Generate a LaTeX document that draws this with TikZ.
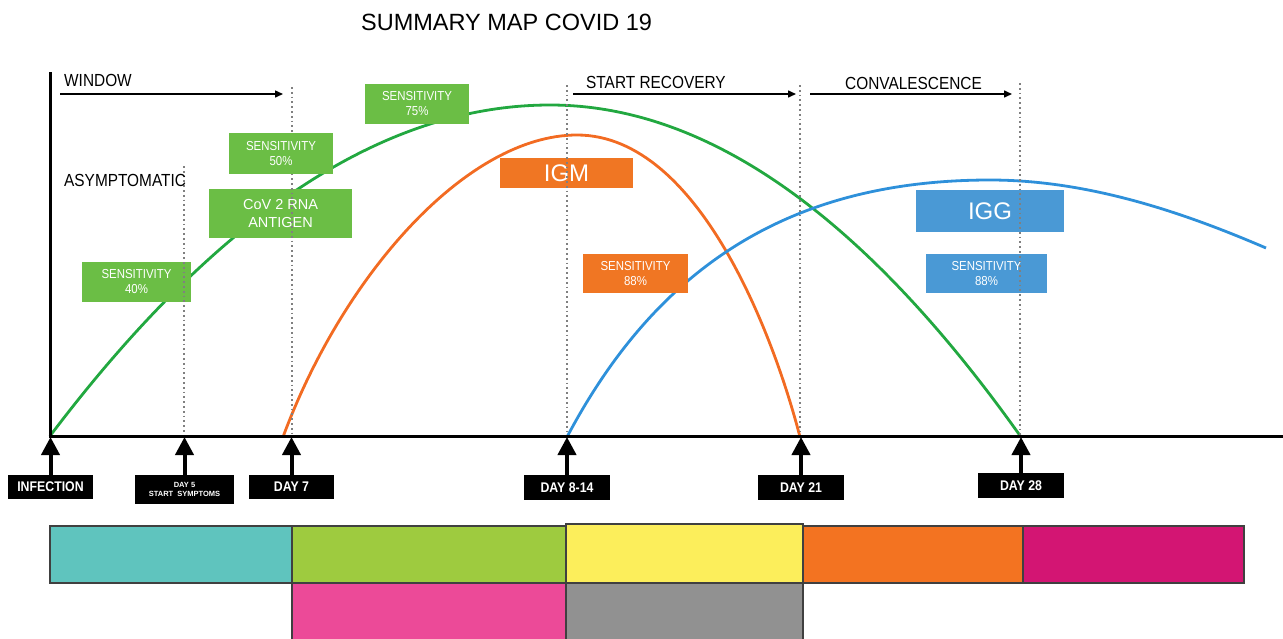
\documentclass[tikz,border=0pt]{standalone}
\usepackage{fontspec}
\setmainfont{Liberation Sans}
\newfontfamily\condf[FakeStretch=0.88]{Liberation Sans}
\usetikzlibrary{arrows.meta}
\definecolor{gcurve}{HTML}{22A840}
\definecolor{ocurve}{HTML}{F26B22}
\definecolor{bcurve}{HTML}{2E90DA}
\definecolor{gfill}{HTML}{6BBE45}
\definecolor{ofill}{HTML}{F07623}
\definecolor{bfill}{HTML}{4A99D5}
\definecolor{cteal}{HTML}{5FC4BE}
\definecolor{clime}{HTML}{9ECB3F}
\definecolor{cyellow}{HTML}{FCEE5B}
\definecolor{corange}{HTML}{F37321}
\definecolor{cmagenta}{HTML}{D31573}
\definecolor{cpink}{HTML}{EC4A98}
\definecolor{cgray}{HTML}{919191}
\tikzset{
  curve/.style={line width=2.8pt},
  infobox/.style={inner sep=0pt, align=center, text=white},
  gbox/.style={infobox, fill=gfill},
  obox/.style={infobox, fill=ofill},
  bbox/.style={infobox, fill=bfill},
  senstext/.style={font=\condf\fontsize{13}{15}\selectfont},
  bigtext/.style={font=\fontsize{24}{28}\selectfont},
  daybox/.style={fill=black, text=white, inner sep=0pt, align=center, font=\condf\bfseries\fontsize{14}{16}\selectfont},
  uparrow/.style={line width=4pt, -{Triangle[width=18pt,length=18pt]}},
  phase/.style={line width=1.5pt, -{Triangle[width=7pt,length=8pt]}},
  lbl/.style={inner sep=0pt, anchor=base west, font=\condf\fontsize{17.5}{20}\selectfont},
  vdot/.style={line width=1.5pt, draw=black!50, dash pattern=on 1.8pt off 3pt},
  cell/.style={draw=black!75, line width=1.2pt}
}
\begin{document}
\begin{tikzpicture}[x=1pt,y=-1pt]
\useasboundingbox (0,0) rectangle (1283,638);
% bottom colour bar
\fill[cteal] (50,526) rectangle (292,583);
\fill[clime] (292,526) rectangle (566,583);
\fill[cyellow] (566,524) rectangle (803,583);
\fill[corange] (803,526) rectangle (1023,583);
\fill[cmagenta] (1023,526) rectangle (1244,583);
\fill[cpink] (292,583) rectangle (566,640);
\fill[cgray] (566,583) rectangle (803,640);
\draw[cell] (50,526) rectangle (292,583);
\draw[cell] (292,526) rectangle (566,583);
\draw[cell] (566,524) rectangle (803,583);
\draw[cell] (803,526) rectangle (1023,583);
\draw[cell] (1023,526) rectangle (1244,583);
\draw[cell] (292,583) rectangle (566,640);
\draw[cell] (566,583) rectangle (803,640);
% curves
\draw[curve, gcurve] (50,436) .. controls (216.7,215.3) and (383.3,105) .. (550,105)
  .. controls (707,105) and (864,215.7) .. (1021,437);
\draw[curve, ocurve] (283,437) .. controls (343,275) and (467,135) .. (577,135)
  .. controls (700,135) and (775,340) .. (800,437);
\draw[curve, bcurve] (567,437) .. controls (657,267) and (790,180) .. (990,180)
  .. controls (1090,180) and (1186,213.6) .. (1266,248);
% info boxes
\node[gbox, senstext, minimum width=109pt, minimum height=40pt] (s40) at (136.5,282) {SENSITIVITY\\40\%};
\node[gbox, font=\fontsize{14.5}{18}\selectfont, minimum width=143pt, minimum height=49pt] (rna) at (280.5,213.5) {CoV 2 RNA\\ANTIGEN};
\node[gbox, senstext, minimum width=104pt, minimum height=40pt] (s75) at (417,104) {SENSITIVITY\\75\%};
\node[obox, bigtext, minimum width=133pt, minimum height=30pt] (igm) at (566.5,173) {IGM};
\node[obox, senstext, minimum width=105pt, minimum height=39pt] (s88o) at (635.5,273.5) {SENSITIVITY\\88\%};
\node[bbox, bigtext, minimum width=148pt, minimum height=42pt] (igg) at (990,211) {IGG};
\node[bbox, senstext, minimum width=121pt, minimum height=39pt] (s88b) at (986.5,273.5) {SENSITIVITY\\88\%};
% dotted day lines
\draw[vdot] (184,166) -- (184,436);
\draw[vdot] (292,87) -- (292,436);
\draw[vdot] (567,85) -- (567,436);
\draw[vdot] (800,85) -- (800,436);
\draw[vdot] (1020,83) -- (1020,436);
\node[gbox, senstext, minimum width=104pt, minimum height=41pt] (s50) at (281,153.5) {SENSITIVITY\\50\%};
% axes
\coordinate (ytop) at (50,72);
\coordinate (origin) at (50,437);
\coordinate (xend) at (1283,436);
\draw[line width=3pt] (ytop) -- (origin);
\draw[line width=3pt] (48.5,436) -- (xend);
\coordinate (ax) at (0,437);
% day labels
\node[daybox, minimum width=85pt, minimum height=24pt] (inf) at (50.5,487) {INFECTION};
\node[daybox, font=\bfseries\fontsize{7.5}{9.5}\selectfont, minimum width=99pt, minimum height=29pt] (d5) at (184.5,489.5) {DAY 5\\START\ \ SYMPTOMS};
\node[daybox, minimum width=85pt, minimum height=24pt] (d7) at (291.5,487) {DAY 7};
\node[daybox, minimum width=86pt, minimum height=25pt] (d814) at (567,487.5) {DAY 8-14};
\node[daybox, minimum width=86pt, minimum height=25pt] (d21) at (801,487.5) {DAY 21};
\node[daybox, minimum width=86pt, minimum height=25pt] (d28) at (1021,485.5) {DAY 28};
\draw[uparrow] (inf.north) -- (inf.north |- ax);
\draw[uparrow] (d5.north) -- (d5.north |- ax);
\draw[uparrow] (d7.north) -- (d7.north |- ax);
\draw[uparrow] (d814.north) -- (d814.north |- ax);
\draw[uparrow] (d21.north) -- (d21.north |- ax);
\draw[uparrow] (d28.north) -- (d28.north |- ax);
% phase labels and arrows
\node[inner sep=0pt, anchor=base west, font=\fontsize{23.5}{28}\selectfont] (title) at (361,30) {SUMMARY MAP COVID 19};
\node[lbl] (window) at (64,86) {WINDOW};
\node[lbl] (asym) at (64,186) {ASYMPTOMATIC};
\node[lbl] (recov) at (586,88) {START RECOVERY};
\node[lbl] (conv) at (845,89) {CONVALESCENCE};
\coordinate (w1) at (60,94);
\coordinate (w2) at (283,94);
\coordinate (r1) at (573,94);
\coordinate (r2) at (796,94);
\coordinate (c1) at (810,94);
\coordinate (c2) at (1012,94);
\draw[phase] (w1) -- (w2);
\draw[phase] (r1) -- (r2);
\draw[phase] (c1) -- (c2);
\end{tikzpicture}
\end{document}
